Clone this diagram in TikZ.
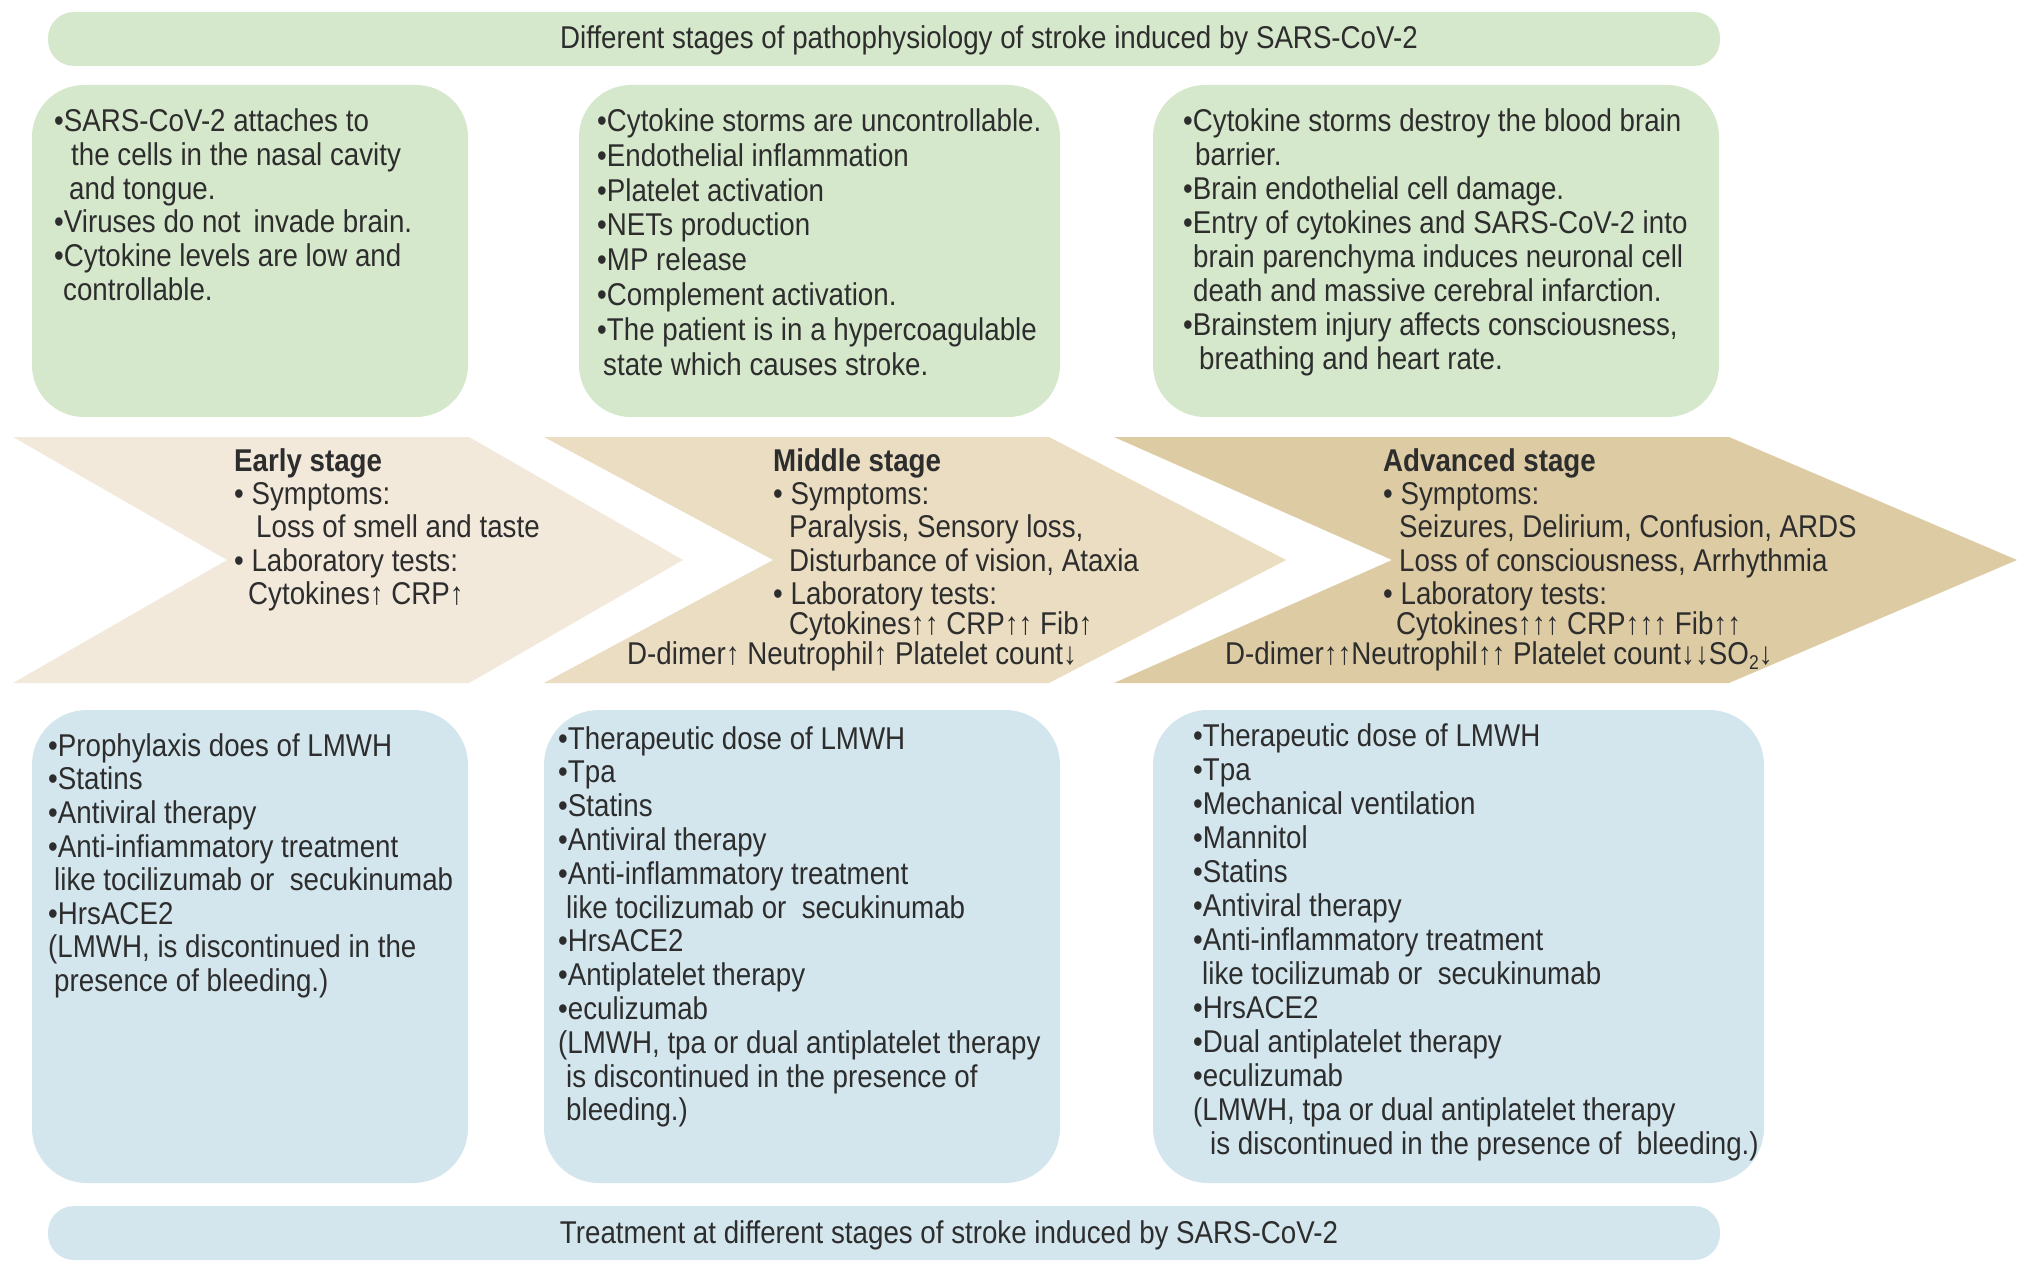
\documentclass[tikz,border=0pt]{standalone}
\usepackage{fontspec}
\setmainfont[FakeStretch=0.88]{Liberation Sans}
\definecolor{gbox}{RGB}{214,232,204}
\definecolor{bbox}{RGB}{211,230,238}
\definecolor{chA}{RGB}{242,233,219}
\definecolor{chB}{RGB}{234,221,193}
\definecolor{chC}{RGB}{221,203,163}
\definecolor{txtc}{RGB}{45,45,45}
\newcommand\myfs[1]{\fontsize{31.5}{#1}\selectfont}
\newcommand\subtwo{\raisebox{-0.18em}{\fontsize{20}{20}\selectfont 2}}
\begin{document}
\begin{tikzpicture}[x=1pt,y=-1pt,
  greenbox/.style={fill=gbox,draw=none,rounded corners=52pt,inner sep=0pt},
  bluebox/.style={fill=bbox,draw=none,rounded corners=55pt,inner sep=0pt},
  banner/.style={rounded corners=26pt,inner sep=0pt,draw=none},
  txt/.style={anchor=north west,inner sep=0pt,align=left,text=txtc},
  ttl/.style={anchor=base,inner sep=0pt,text=txtc,font=\myfs{34}}]
\useasboundingbox[fill=white] (0,0) rectangle (2031,1273);
% banners
\node[banner,fill=gbox,minimum width=1672,minimum height=54] (topban) at (884,39) {};
\node[ttl] (toptxt) at (989,48.6) {Different stages of pathophysiology of stroke induced by SARS-CoV-2};
\node[banner,fill=bbox,minimum width=1672,minimum height=54] (botban) at (884,1233) {};
\node[ttl] (bottxt) at (949,1243) {Treatment at different stages of stroke induced by SARS-CoV-2};
% green boxes
\node[greenbox,minimum width=436,minimum height=332] (g1) at (250,251) {};
\node[greenbox,minimum width=481,minimum height=332] (g2) at (819.5,251) {};
\node[greenbox,minimum width=566,minimum height=332] (g3) at (1436,251) {};
\node[txt,font=\myfs{33.7}] (g1t) at (54,108) {\strut•SARS-CoV-2 attaches to\\
\hspace*{17pt}the cells in the nasal cavity\\
\hspace*{15pt}and tongue.\\
•Viruses do not\ \,invade brain.\\
•Cytokine levels are low and\\
\hspace*{9pt}controllable.};
\node[txt,font=\myfs{34.8}] (g2t) at (597,107) {\strut•Cytokine storms are uncontrollable.\\
•Endothelial inflammation\\
•Platelet activation\\
•NETs production\\
•MP release\\
•Complement activation.\\
•The patient is in a hypercoagulable\\
\hspace*{6pt}state which causes stroke.};
\node[txt,font=\myfs{33.9}] (g3t) at (1183,107.8) {\strut•Cytokine storms destroy the blood brain\\
\hspace*{12pt}barrier.\\
•Brain endothelial cell damage.\\
•Entry of cytokines and SARS-CoV-2 into\\
\hspace*{10pt}brain parenchyma induces neuronal cell\\
\hspace*{10pt}death and massive cerebral infarction.\\
•Brainstem injury affects consciousness,\\
\hspace*{16pt}breathing and heart rate.};
% chevrons
\fill[chA] (13,437) -- (469,437) -- (683,560) -- (469,683) -- (13,683) -- (227,560) -- cycle;
\fill[chB] (544,437) -- (1049,437) -- (1286,560) -- (1049,683) -- (544,683) -- (773,560) -- cycle;
\fill[chC] (1114,437) -- (1729,437) -- (2017,560) -- (1729,683) -- (1114,683) -- (1392,560) -- cycle;
\node[txt,font=\myfs{33.3}] (c1t) at (234,447.7) {\strut\textbf{Early stage}\\
• Symptoms:\\
\hspace*{22pt}Loss of smell and taste\\
• Laboratory tests:\\
\hspace*{14pt}Cytokines↑ CRP↑};
\node[txt,font=\myfs{33.3}] (c2t) at (773,447.7) {\strut\textbf{Middle stage}\\
• Symptoms:\\
\hspace*{16pt}Paralysis, Sensory loss,\\
\hspace*{16pt}Disturbance of vision, Ataxia\\
• Laboratory tests:};
\node[txt,font=\myfs{33.3}] (c2a) at (789,610.7) {\strut Cytokines↑↑ CRP↑↑ Fib↑};
\node[txt,font=\myfs{33.3}] (c2b) at (627,640.7) {\strut D-dimer↑ Neutrophil↑ Platelet count↓};
\node[txt,font=\myfs{33.3}] (c3t) at (1383,447.7) {\strut\textbf{Advanced stage}\\
• Symptoms:\\
\hspace*{16pt}Seizures, Delirium, Confusion, ARDS\\
\hspace*{16pt}Loss of consciousness, Arrhythmia\\
• Laboratory tests:};
\node[txt,font=\myfs{33.3}] (c3a) at (1396,610.7) {\strut Cytokines↑↑↑ CRP↑↑↑ Fib↑↑};
\node[txt,font=\myfs{33.3}] (c3b) at (1225,640.7) {\strut D-dimer↑↑Neutrophil↑↑ Platelet count↓↓SO\subtwo↓};
% blue boxes
\node[bluebox,minimum width=436,minimum height=473] (b1) at (250,946.5) {};
\node[bluebox,minimum width=516,minimum height=473] (b2) at (802,946.5) {};
\node[bluebox,minimum width=611,minimum height=473] (b3) at (1458.5,946.5) {};
\node[txt,font=\myfs{33.6}] (b1t) at (48,732.5) {\strut•Prophylaxis does of LMWH\\
•Statins\\
•Antiviral therapy\\
•Anti-infiammatory treatment\\
\hspace*{6pt}like tocilizumab or\ \ secukinumab\\
•HrsACE2\\
(LMWH, is discontinued in the\\
\hspace*{6pt}presence of bleeding.)};
\node[txt,font=\myfs{33.8}] (b2t) at (558,725.3) {\strut•Therapeutic dose of LMWH\\
•Tpa\\
•Statins\\
•Antiviral therapy\\
•Anti-inflammatory treatment\\
\hspace*{8pt}like tocilizumab or\ \ secukinumab\\
•HrsACE2\\
•Antiplatelet therapy\\
•eculizumab\\
(LMWH, tpa or dual antiplatelet therapy\\
\hspace*{8pt}is discontinued in the presence of\\
\hspace*{8pt}bleeding.)};
\node[txt,font=\myfs{34.0}] (b3t) at (1193,722.9) {\strut•Therapeutic dose of LMWH\\
•Tpa\\
•Mechanical ventilation\\
•Mannitol\\
•Statins\\
•Antiviral therapy\\
•Anti-inflammatory treatment\\
\hspace*{9pt}like tocilizumab or\ \ secukinumab\\
•HrsACE2\\
•Dual antiplatelet therapy\\
•eculizumab\\
(LMWH, tpa or dual antiplatelet therapy\\
\hspace*{17pt}is discontinued in the presence of\ \ bleeding.)};
\end{tikzpicture}
\end{document}
